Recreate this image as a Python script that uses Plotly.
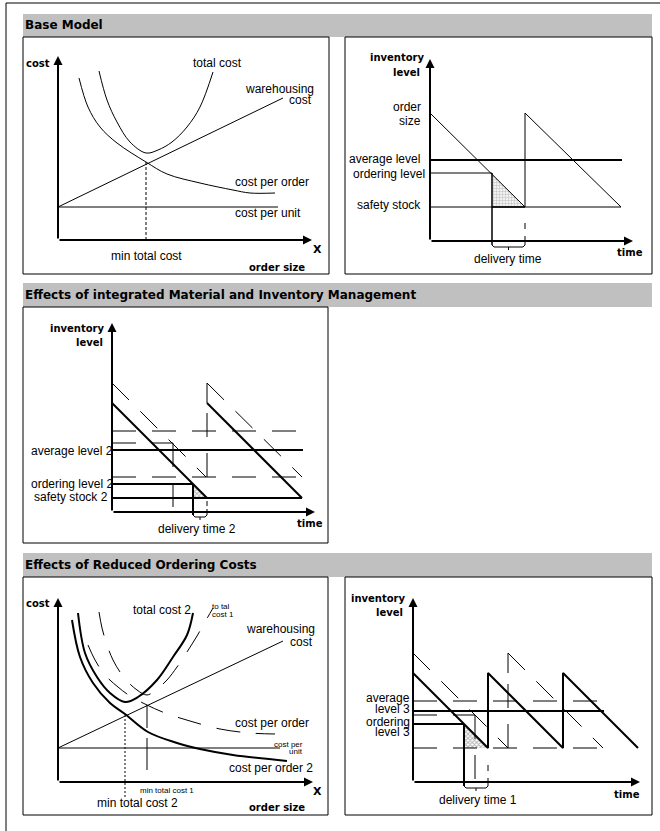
import plotly.graph_objects as go

W, H = 660, 831

# ---------------- DATA (diagram units, origin = axis origin, y up) ----------------
# Panel 1: Base Model - cost vs order size
P1_AXIS_X_LEN = 254
P1_AXIS_Y_LEN = 184
P1_UNIT_COST = 33
P1_UNIT_END = 220
P1_WH_X = [0, 225]
P1_WH_Y = [33, 142]
P1_ORDER_X = [21, 30, 42, 59, 88, 109, 142, 175, 192, 217]
P1_ORDER_Y = [162, 133, 113, 97, 78, 66, 57, 50, 47, 47]
P1_TOTAL_X = [41, 49, 59, 72, 88, 100, 114, 129, 142, 155]
P1_TOTAL_Y = [169, 140, 118, 98, 87, 90, 98, 113, 133, 168]
P1_MIN_X = 88
P1_MIN_Y = 78

# Panel 2: Base Model - inventory level vs time
P2_AXIS_X_LEN = 203
P2_AXIS_Y_LEN = 182
P2_TEETH_X = [0, 95, 95, 191]
P2_TEETH_Y = [128, 34, 128, 34]
P2_AVG = 81
P2_AVG_END = 192
P2_ORDER_LVL = 68
P2_ORDER_T = 62
P2_SAFETY = 34
P2_SAFETY_END = 191
P2_DELIV_END = 95

# Panel 3: integrated material & inventory management
P3_AXIS_X_LEN = 203
P3_AXIS_Y_LEN = 189
P3_NEW_X = [0, 95, None, 95, 190]
P3_NEW_Y = [109, 14, None, 109, 14]
P3_OLD_X = [0, 94, None, 95, 190]
P3_OLD_Y = [129, 35, None, 129, 35]
P3_OLD_TOP = 129
P3_NEW_TOP = 109
P3_RESTOCK_T = 95
P3_OLD_AVG = 81
P3_OLD_SAFETY = 35
P3_OLD_END = 185
P3_OLD_ORDER = 69
P3_OLD_ORDER_T = 61
P3_AVG2 = 62
P3_AVG2_END = 191
P3_ORDER2 = 28
P3_ORDER2_T = 81
P3_SAFETY2 = 14
P3_SAFETY2_END = 190

# Panel 4: reduced ordering costs - cost vs order size
P4_AXIS_X_LEN = 255
P4_AXIS_Y_LEN = 184
P4_UNIT_COST = 34
P4_UNIT_END = 222
P4_WH_X = [0, 225]
P4_WH_Y = [34, 141]
P4_ORDER2_X = [14, 22, 35, 52, 67, 90, 119, 142, 175, 229]
P4_ORDER2_Y = [162, 125, 99, 79, 68, 50, 39, 33, 27, 21]
P4_TOTAL2_X = [20, 27, 39, 52, 67, 80, 99, 115, 129, 135]
P4_TOTAL2_Y = [169, 129, 105, 89, 80, 85, 102, 125, 147, 169]
P4_TOTAL1_X = [41, 44, 49, 55, 62, 70, 79, 89, 99, 109, 119, 129, 139, 147, 155]
P4_TOTAL1_Y = [170, 154, 137, 122, 110, 100, 92, 87, 93, 102, 115, 130, 146, 160, 174]
P4_ORDER1_X = [30, 37, 47, 60, 72, 89, 107, 132, 162, 192, 217]
P4_ORDER1_Y = [137, 122, 107, 95, 86, 77, 69, 61, 53, 49, 48]
P4_MIN1_X = 89
P4_MIN1_Y = [77, 54, None, 44, 12]
P4_MIN2_X = 67
P4_MIN2_Y = 67

# Panel 5: reduced ordering costs - inventory level vs time
P5_AXIS_X_LEN = 227
P5_AXIS_Y_LEN = 184
P5_NEW_X = [0, 75, 75, 150, 150, 225]
P5_NEW_Y = [109, 34, 109, 34, 109, 34]
P5_OLD_X = [0, 95, None, 95, 190]
P5_OLD_Y = [129, 34, None, 129, 34]
P5_OLD_TOP = 129
P5_NEW_TOP = 109
P5_RESTOCK_T = 95
P5_OLD_AVG = 81
P5_OLD_END = 187
P5_SAFETY = 34
P5_OLD_ORDER = 67
P5_OLD_ORDER_T = 62
P5_AVG3 = 71
P5_AVG3_END = 191
P5_ORDER3 = 58
P5_ORDER3_T = 51
P5_DELIV_END = 75

# ---------------- LAYOUT ----------------
PANELS = {
    1: dict(box=(23, 37, 329, 274), origin=(58, 240)),
    2: dict(box=(345, 37, 652, 274), origin=(430, 241)),
    3: dict(box=(23, 307, 328, 543), origin=(112, 512)),
    4: dict(box=(23, 577, 328, 815), origin=(58, 782)),
    5: dict(box=(345, 577, 652, 815), origin=(413, 782)),
}
HEADERS = [
    ("Base Model", 14, 37),
    ("Effects of integrated Material and Inventory Management", 283, 307),
    ("Effects of Reduced Ordering Costs", 553, 577),
]
REG = "Liberation Sans, Arial, sans-serif"
BLD = "DejaVu Sans, Arial, sans-serif"

fig = go.Figure()
layout = dict(width=W, height=H, margin=dict(l=0, r=0, t=0, b=0),
              paper_bgcolor="white", plot_bgcolor="rgba(0,0,0,0)",
              showlegend=False, shapes=[], annotations=[])


def xa(n):
    return "x" if n == 1 else f"x{n}"


def ya(n):
    return "y" if n == 1 else f"y{n}"


for n, p in PANELS.items():
    x0, y0, x1, y1 = p["box"]
    ox, oy = p["origin"]
    key = "" if n == 1 else str(n)
    common = dict(showgrid=False, zeroline=False, showticklabels=False,
                  showline=False, ticks="", fixedrange=True)
    layout["xaxis" + key] = dict(domain=[x0 / W, x1 / W], range=[x0 - ox, x1 - ox],
                                 anchor=ya(n), **common)
    layout["yaxis" + key] = dict(domain=[1 - y1 / H, 1 - y0 / H], range=[oy - y1, oy - y0],
                                 anchor=xa(n), **common)
    layout["shapes"].append(dict(type="rect", xref="paper", yref="paper",
                                 x0=x0 / W, x1=x1 / W, y0=1 - y1 / H, y1=1 - y0 / H,
                                 line=dict(color="black", width=1), fillcolor="rgba(0,0,0,0)"))

for text, t, b in HEADERS:
    layout["shapes"].append(dict(type="rect", xref="paper", yref="paper",
                                 x0=23 / W, x1=652 / W, y0=1 - b / H, y1=1 - t / H,
                                 line=dict(width=0), fillcolor="#c0c0c0", layer="below"))
    layout["annotations"].append(dict(text=text, xref="paper", yref="paper",
                                      x=23 / W, y=1 - (t + b) / 2 / H, xanchor="left",
                                      yanchor="middle", showarrow=False,
                                      font=dict(family=BLD, size=12, color="black", weight="bold")))

# outer frame
layout["shapes"].append(dict(type="line", xref="paper", yref="paper", x0=6 / W, x1=1,
                             y0=1 - 3 / H, y1=1 - 3 / H, line=dict(color="black", width=1)))
layout["shapes"].append(dict(type="line", xref="paper", yref="paper", x0=6 / W, x1=6 / W,
                             y0=0, y1=1 - 3 / H, line=dict(color="black", width=1)))


def line(n, xs, ys, w=1.0, dash="solid", shape="linear"):
    fig.add_trace(go.Scatter(x=xs, y=ys, xaxis=xa(n), yaxis=ya(n), mode="lines",
                             line=dict(color="black", width=w, dash=dash, shape=shape,
                                       smoothing=1.0),
                             hoverinfo="skip", showlegend=False, cliponaxis=False))


def tri(n, t0, t1, top, bottom, pattern, fg):
    fig.add_trace(go.Scatter(x=[t0, t0, t1, t0], y=[top, bottom, bottom, top],
                             xaxis=xa(n), yaxis=ya(n), mode="lines", fill="toself",
                             fillcolor="white",
                             fillpattern=dict(shape=pattern, fgcolor=fg, bgcolor="white",
                                              size=3, solidity=0.5),
                             line=dict(width=0, color="black"), hoverinfo="skip",
                             showlegend=False, cliponaxis=False))


def bracket(n, t0, t1, top, bottom):
    m = (t0 + t1) / 2
    line(n, [t0, t0 + 2, t1 - 2, t1, t1], [bottom + 2, bottom, bottom, bottom + 2, top])
    line(n, [m, m], [bottom, bottom - 3])


def axes(n, xlen, ylen):
    for (tx, ty) in [(xlen, 0), (0, ylen)]:
        layout["annotations"].append(dict(x=tx, y=ty, ax=0, ay=0, xref=xa(n), yref=ya(n),
                                          axref=xa(n), ayref=ya(n), text="", showarrow=True,
                                          arrowhead=2, arrowsize=0.9, arrowwidth=2,
                                          arrowcolor="black", standoff=0, startstandoff=0))


def label(n, x, y, text, size=12, bold=False, anchor="center", color="black"):
    layout["annotations"].append(dict(x=x, y=y, xref=xa(n), yref=ya(n), text=text,
                                      showarrow=False, xanchor=anchor, yanchor="middle",
                                      font=dict(family=BLD if bold else REG, size=size,
                                                color=color,
                                                weight="bold" if bold else "normal")))


DASH = "24px,16px"

# ---- Panel 1 ----
line(1, [0, P1_UNIT_END], [P1_UNIT_COST, P1_UNIT_COST])
line(1, P1_WH_X, P1_WH_Y)
line(1, P1_ORDER_X, P1_ORDER_Y, shape="spline")
line(1, P1_TOTAL_X, P1_TOTAL_Y, shape="spline")
line(1, [P1_MIN_X, P1_MIN_X], [0, P1_MIN_Y], dash="3px,2px")
axes(1, P1_AXIS_X_LEN, P1_AXIS_Y_LEN)
label(1, -6, 177, "cost", 10, True, "right")
label(1, 159, 177, "total cost")
label(1, 258, 151, "warehousing", anchor="right")
label(1, 256, 140, "cost", anchor="right")
label(1, 175, 58, "cost per order", anchor="left")
label(1, 175, 27, "cost per unit", anchor="left")
label(1, P1_MIN_X, -16, "min total cost")
label(1, 259, -9, "X", 11, True)
label(1, 249, -27, "order size", 10, True, "right")

# ---- Panel 2 ----
tri(2, P2_ORDER_T, P2_DELIV_END, P2_ORDER_LVL, P2_SAFETY, ".", "#909090")
line(2, P2_TEETH_X, P2_TEETH_Y)
line(2, [0, P2_AVG_END], [P2_AVG, P2_AVG], 2)
line(2, [0, P2_ORDER_T], [P2_ORDER_LVL, P2_ORDER_LVL])
line(2, [P2_ORDER_T, P2_ORDER_T], [P2_ORDER_LVL, -4], 1.5)
line(2, [0, P2_SAFETY_END], [P2_SAFETY, P2_SAFETY])
line(2, [P2_ORDER_T, P2_DELIV_END], [P2_SAFETY, P2_SAFETY], 1.5)
line(2, [P2_DELIV_END, P2_DELIV_END], [12, 18])
bracket(2, P2_ORDER_T, P2_DELIV_END, 5, -6)
axes(2, P2_AXIS_X_LEN, P2_AXIS_Y_LEN)
label(2, -3, 184, "inventory", 10, True, "right")
label(2, -8, 169, "level", 10, True, "right")
label(2, -7, 134, "order", anchor="right")
label(2, -7, 120, "size", anchor="right")
label(2, -8, 82, "average level", anchor="right")
label(2, -3, 67, "ordering level", anchor="right")
label(2, -7, 36, "safety stock", anchor="right")
label(2, 78, -18, "delivery time")
label(2, 200, -11, "time", 10, True)

# ---- Panel 3 ----
tri(3, P3_ORDER2_T, P3_RESTOCK_T, P3_ORDER2, P3_SAFETY2, "x", "#606060")
line(3, P3_OLD_X, P3_OLD_Y, dash=DASH)
line(3, [P3_RESTOCK_T, P3_RESTOCK_T], [P3_NEW_TOP, P3_OLD_TOP])
line(3, [P3_RESTOCK_T, P3_RESTOCK_T], [P3_OLD_SAFETY, P3_NEW_TOP], dash=DASH)
line(3, [0, P3_OLD_END], [P3_OLD_AVG, P3_OLD_AVG], dash=DASH)
line(3, [0, P3_OLD_END], [P3_OLD_SAFETY, P3_OLD_SAFETY], dash=DASH)
line(3, [0, P3_OLD_ORDER_T], [P3_OLD_ORDER, P3_OLD_ORDER], dash=DASH)
line(3, [P3_OLD_ORDER_T, P3_OLD_ORDER_T], [P3_OLD_ORDER, 0], dash=DASH)
line(3, P3_NEW_X, P3_NEW_Y, 2)
line(3, [0, P3_AVG2_END], [P3_AVG2, P3_AVG2], 2)
line(3, [0, P3_ORDER2_T], [P3_ORDER2, P3_ORDER2], 2)
line(3, [P3_ORDER2_T, P3_ORDER2_T], [P3_ORDER2, -3], 2)
line(3, [0, P3_SAFETY2_END], [P3_SAFETY2, P3_SAFETY2], 2)
line(3, [P3_RESTOCK_T, P3_RESTOCK_T], [6, 11])
bracket(3, P3_ORDER2_T, P3_RESTOCK_T, 3, -5)
axes(3, P3_AXIS_X_LEN, P3_AXIS_Y_LEN)
label(3, -5, 184, "inventory", 10, True, "right")
label(3, -7, 170, "level", 10, True, "right")
label(3, 3, 61, "average level 2", anchor="right")
label(3, 3, 28, "ordering level 2", anchor="right")
label(3, -2, 15, "safety stock 2", anchor="right")
label(3, 85, -17, "delivery time 2")
label(3, 198, -11, "time", 10, True)

# ---- Panel 4 ----
line(4, [0, P4_UNIT_END], [P4_UNIT_COST, P4_UNIT_COST])
line(4, P4_WH_X, P4_WH_Y)
line(4, P4_ORDER1_X, P4_ORDER1_Y, dash=DASH, shape="spline")
line(4, P4_TOTAL1_X, P4_TOTAL1_Y, dash=DASH, shape="spline")
line(4, P4_ORDER2_X, P4_ORDER2_Y, 2, shape="spline")
line(4, P4_TOTAL2_X, P4_TOTAL2_Y, 2, shape="spline")
line(4, [P4_MIN1_X] * len(P4_MIN1_Y), P4_MIN1_Y)
line(4, [P4_MIN2_X, P4_MIN2_X], [P4_MIN2_Y, -15], dash="2px,2px")
axes(4, P4_AXIS_X_LEN, P4_AXIS_Y_LEN)
label(4, -6, 179, "cost", 10, True, "right")
label(4, 104, 172, "total cost 2")
label(4, 152, 176, "to tal", 8, anchor="left")
label(4, 152, 168, "cost 1", 8, anchor="left")
label(4, 259, 153, "warehousing", anchor="right")
label(4, 257, 140, "cost", anchor="right")
label(4, 175, 59, "cost per order", anchor="left")
label(4, 247, 38, "cost per", 8, anchor="right")
label(4, 247, 31, "unit", 8, anchor="right")
label(4, 169, 14, "cost per order 2", anchor="left")
label(4, 259, -9, "X", 11, True)
label(4, 109, -8, "min total cost 1", 8)
label(4, 79, -21, "min total cost 2")
label(4, 249, -25, "order size", 10, True, "right")

# ---- Panel 5 ----
tri(5, P5_ORDER3_T, P5_DELIV_END, P5_ORDER3, P5_SAFETY, "x", "#606060")
line(5, P5_OLD_X, P5_OLD_Y, dash=DASH)
line(5, [P5_RESTOCK_T, P5_RESTOCK_T], [P5_NEW_TOP, P5_OLD_TOP])
line(5, [P5_RESTOCK_T, P5_RESTOCK_T], [P5_SAFETY, P5_NEW_TOP], dash=DASH)
line(5, [0, P5_OLD_END], [P5_OLD_AVG, P5_OLD_AVG], dash=DASH)
line(5, [0, P5_OLD_END], [P5_SAFETY, P5_SAFETY], dash=DASH)
line(5, [0, P5_OLD_ORDER_T], [P5_OLD_ORDER, P5_OLD_ORDER], dash=DASH)
line(5, [P5_OLD_ORDER_T, P5_OLD_ORDER_T], [P5_OLD_ORDER, -13], dash=DASH)
line(5, P5_NEW_X, P5_NEW_Y, 2)
line(5, [0, P5_AVG3_END], [P5_AVG3, P5_AVG3], 2)
line(5, [0, P5_ORDER3_T], [P5_ORDER3, P5_ORDER3], 2)
line(5, [P5_ORDER3_T, P5_ORDER3_T], [P5_ORDER3, -4], 2)
line(5, [P5_DELIV_END, P5_DELIV_END], [11, 17])
bracket(5, P5_ORDER3_T, P5_DELIV_END, 4, -6)
axes(5, P5_AXIS_X_LEN, P5_AXIS_Y_LEN)
label(5, -5, 184, "inventory", 10, True, "right")
label(5, -8, 170, "level", 10, True, "right")
label(5, -1, 84, "average", anchor="right")
label(5, -1, 73, "level 3", anchor="right")
label(5, -1, 60, "ordering", anchor="right")
label(5, -1, 50, "level 3", anchor="right")
label(5, 65, -18, "delivery time 1")
label(5, 214, -12, "time", 10, True)

fig.update_layout(**layout)
fig.write_html("out.html",
               config={"displayModeBar": False, "staticPlot": True},
               post_script="document.body.style.margin='0';"
                           "document.body.style.padding='0';"
                           "document.documentElement.style.overflow='hidden';")
